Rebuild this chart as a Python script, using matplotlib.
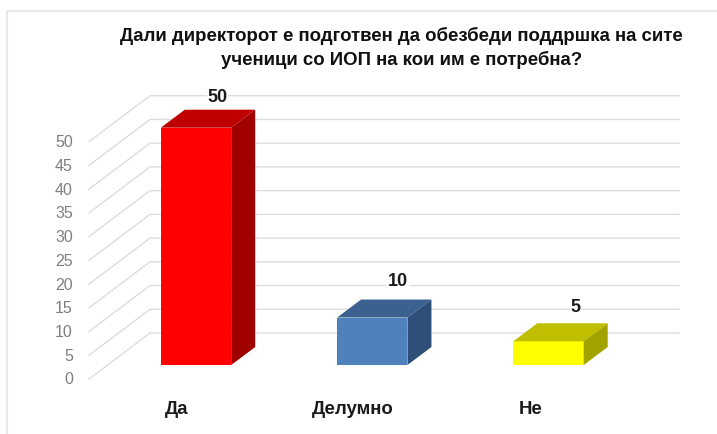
import matplotlib
matplotlib.use('Agg')
import matplotlib.pyplot as plt
from matplotlib.patches import Polygon

categories = ['Да', 'Делумно', 'Не']
values = [50, 10, 5]
ticks = list(range(0, 55, 5))
front_colors = ['#FF0000', '#4F81BD', '#FFFF00']
top_colors = ['#BF0000', '#3B618E', '#BFBF00']
side_colors = ['#A00000', '#2F4F78', '#A3A300']
title = 'Дали директорот е подготвен да обезбеди поддршка на сите\nученици со ИОП на кои им е потребна?'

W, H = 717, 434
# pixel geometry of the projection
PX_Y = 4.746      # px per value unit
PX_X = 176.25     # px per category
Y0 = 365.0        # pixel row of value 0 at bar front
X0 = 196.0        # pixel column of first category

plt.rcParams['font.family'] = ['Liberation Sans', 'DejaVu Sans']
fig = plt.figure(figsize=(W / 100, H / 100), dpi=100)
ax = fig.add_axes([0, 0, 1, 1])
ax.set_xlim(-X0 / PX_X, (W - X0) / PX_X)
ax.set_ylim((Y0 - H) / PX_Y, Y0 / PX_Y)
ax.axis('off')

dxu = lambda p: p / PX_X
dyu = lambda p: p / PX_Y

# outer frame
fx = -X0 / PX_X + dxu(7)
ax.plot([fx, fx, (W - X0) / PX_X], [(Y0 - H) / PX_Y, (Y0 - 11) / PX_Y, (Y0 - 11) / PX_Y],
        color='#E8E8E8', lw=1.6, zorder=1, solid_joinstyle='miter')

# gridlines: front wall end, back wall run
grid_x0 = -X0 / PX_X + dxu(89)
grid_x1 = -X0 / PX_X + dxu(150)
grid_x2 = -X0 / PX_X + dxu(679)
floor = dyu(-14)
rise = dyu(46)
for t in ticks:
    y = t + floor
    ax.plot([grid_x0, grid_x1, grid_x2], [y, y + rise, y + rise],
            color='#DDDDDD', lw=1.0, zorder=2)
    ax.text(grid_x0 - dxu(16), y + dyu(-1), str(t), ha='right', va='center',
            fontsize=11.5, color='#7F7F7F', zorder=5)

# bars
half = dxu(35.2)
ddx, ddy = dxu(24), dyu(18)
label_dx = [21.5, 26, 27]
label_dy = [12, 18, 16]
for i, v in enumerate(values):
    l, r = i - half, i + half
    ax.add_patch(Polygon([(l, 0), (r, 0), (r, v), (l, v)], closed=True,
                         fc=front_colors[i], ec='none', zorder=4))
    ax.add_patch(Polygon([(l, v), (r, v), (r + ddx, v + ddy), (l + ddx, v + ddy)], closed=True,
                         fc=top_colors[i], ec='none', zorder=4))
    ax.add_patch(Polygon([(r, 0), (r + ddx, ddy), (r + ddx, v + ddy), (r, v)], closed=True,
                         fc=side_colors[i], ec='none', zorder=4))
    ax.text(i + dxu(label_dx[i]), v + ddy + dyu(label_dy[i]), str(v), ha='center', va='center',
            fontsize=13, fontweight='bold', color='#1A1A1A', zorder=6,
            bbox=dict(fc='white', ec='none', pad=0.6))

# category labels
label_off = [-19, -19, -18]
for i, c in enumerate(categories):
    ax.text(i + dxu(label_off[i]), dyu(-45), c, ha='center', va='center',
            fontsize=13.4, fontweight='bold', color='#1A1A1A', zorder=6)

# title
ax.text(-X0 / PX_X + dxu(401.5), (Y0 - 48) / PX_Y, title, ha='center', va='center',
        fontsize=13.4, fontweight='bold', color='#111111', linespacing=1.36, zorder=6)

fig.savefig('out.png', dpi=100)
